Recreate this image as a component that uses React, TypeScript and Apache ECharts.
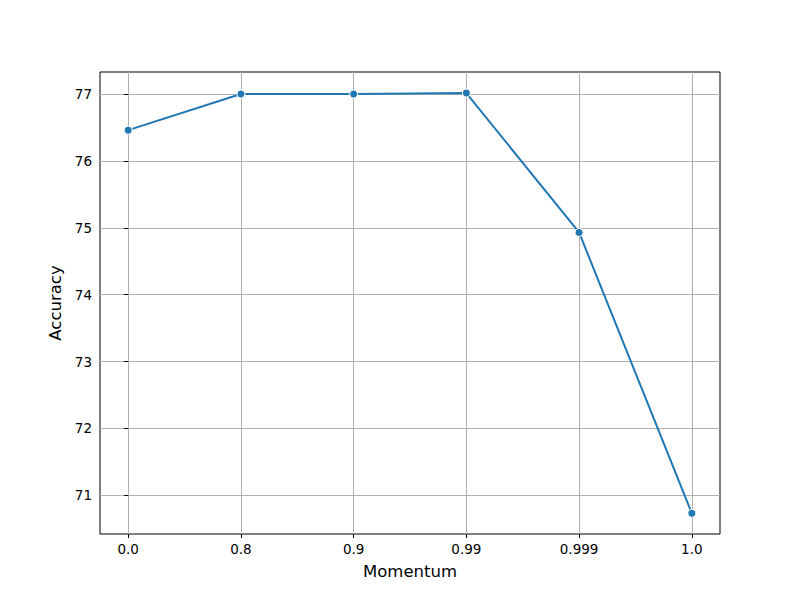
import React, { useEffect, useRef } from "react";
import * as echarts from "echarts";

const categories = ["0.0", "0.8", "0.9", "0.99", "0.999", "1.0"];
const accuracy = [76.46, 77.0, 77.0, 77.015, 74.93, 70.73];
const yTicks = [71, 72, 73, 74, 75, 76, 77];
const xTicks = [0, 1, 2, 3, 4, 5];

export default function App() {
  const ref = useRef<HTMLDivElement>(null);
  useEffect(() => {
    const chart = echarts.init(ref.current!, null, { renderer: "svg" });
    const font = "DejaVu Sans";
    chart.setOption({
      animation: false,
      backgroundColor: "#ffffff",
      grid: {
        left: 100,
        top: 72,
        width: 620,
        height: 462,
        show: true,
        borderColor: "#000000",
        borderWidth: 1,
        backgroundColor: "transparent",
      },
      xAxis: {
        type: "value",
        min: -0.25,
        max: 5.25,
        splitNumber: 5,
        name: "Momentum",
        nameLocation: "middle",
        nameGap: 29,
        nameTextStyle: { fontFamily: font, fontSize: 16.5, color: "#000" },
        axisLine: { show: false },
        axisTick: { show: true, length: 4, customValues: xTicks, lineStyle: { color: "#000", width: 1 } },
        axisLabel: {
          customValues: xTicks,
          margin: 8,
          fontFamily: font,
          fontSize: 13.5,
          color: "#000",
          formatter: (v: number) => {
            const i = Math.round(v);
            return Math.abs(v - i) < 1e-6 && i >= 0 && i < categories.length ? categories[i] : "";
          },
        },
        splitLine: { show: true, lineStyle: { color: "#b0b0b0", width: 1 } },
      },
      yAxis: {
        type: "value",
        min: 70.42,
        max: 77.33,
        splitNumber: 7,
        name: "Accuracy",
        nameLocation: "middle",
        nameGap: 36,
        nameTextStyle: { fontFamily: font, fontSize: 16.5, color: "#000" },
        axisLine: { show: false },
        axisTick: { show: true, length: 4, customValues: yTicks, lineStyle: { color: "#000", width: 1 } },
        axisLabel: {
          customValues: yTicks,
          margin: 8,
          fontFamily: font,
          fontSize: 13.5,
          color: "#000",
          formatter: (v: number) => {
            const i = Math.round(v);
            return Math.abs(v - i) < 1e-6 ? String(i) : "";
          },
        },
        splitLine: { show: true, lineStyle: { color: "#b0b0b0", width: 1 } },
      },
      series: [
        {
          type: "line",
          data: accuracy.map((v, i) => [i, v]),
          lineStyle: { color: "#1f77b4", width: 2 },
          symbol: "circle",
          symbolSize: 8,
          itemStyle: { color: "#1f77b4", borderColor: "#ffffff", borderWidth: 1 },
          z: 5,
        },
      ],
    });
    return () => chart.dispose();
  }, []);
  return <div ref={ref} style={{ width: 800, height: 600, position: "absolute", left: 0, top: 0 }} />;
}
